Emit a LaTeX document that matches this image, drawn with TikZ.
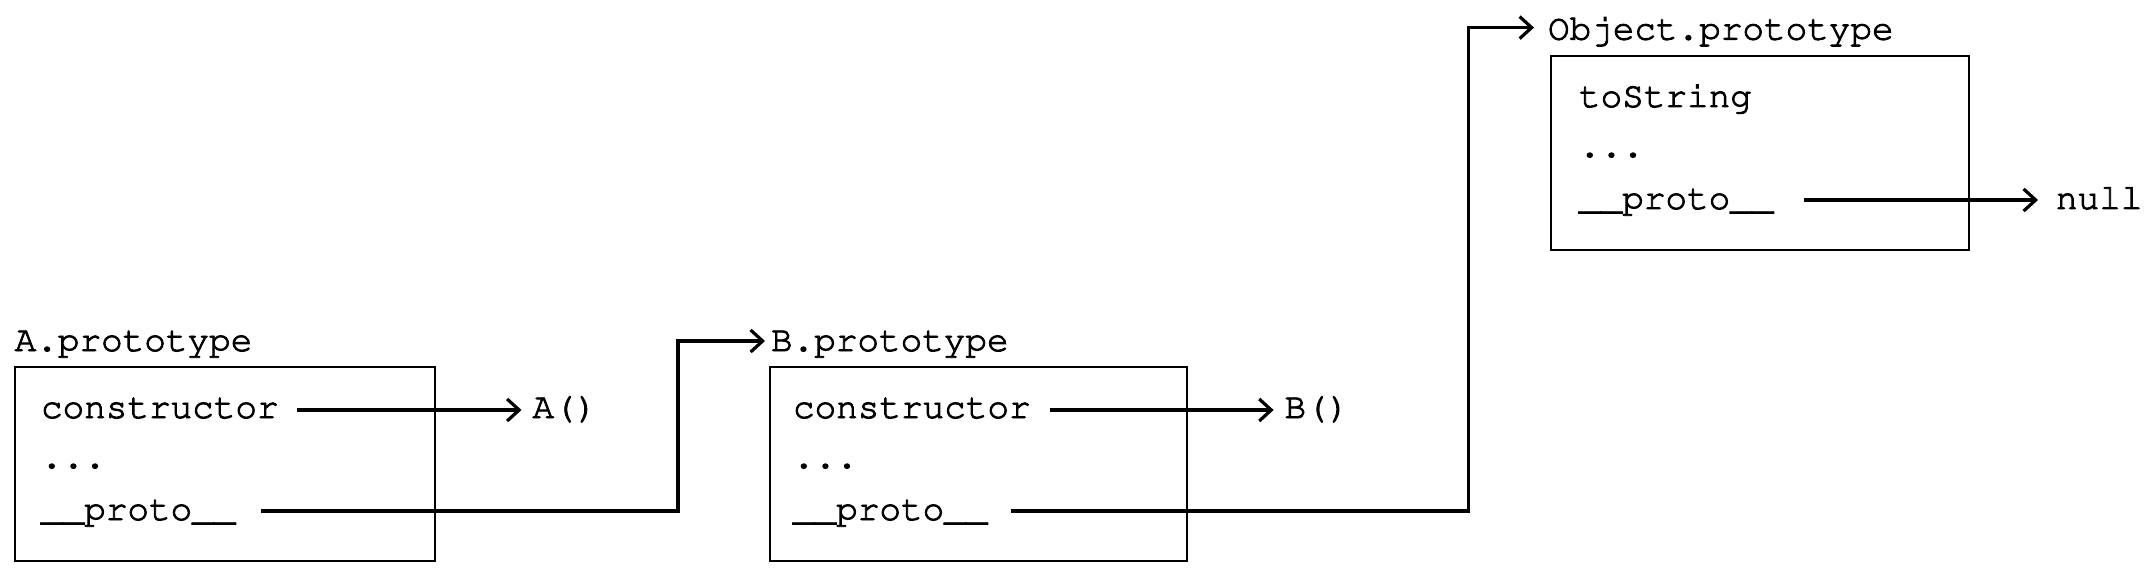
\documentclass[tikz,border=0pt]{standalone}
\usepackage[T1]{fontenc}
\usepackage{courier}
\usetikzlibrary{arrows.meta}
\newcommand\heavytext[1]{\special{pdf:literal direct 2 Tr 0.45 w}#1\special{pdf:literal direct 0 Tr}}
\begin{document}
\begin{tikzpicture}[x=0.5pt,y=-0.5pt,
  txt/.style={anchor=base west,inner sep=0pt,outer sep=0pt,font=\ttfamily\fontsize{18}{20}\selectfont},
  objbox/.style={draw,line width=1pt,anchor=north west,minimum height=96.8pt,inner sep=0pt},
  conn/.style={line width=1.6pt,-{Straight Barb[length=6pt,width=11pt]}},
  link/.style={line width=1.6pt}]
\useasboundingbox (0,0) rectangle (2152,572);
% boxes
\node[objbox,minimum width=210pt] (boxA) at (13.7,366.4) {};
\node[objbox,minimum width=208.6pt] (boxB) at (768.5,366.4) {};
\node[objbox,minimum width=209.2pt] (boxO) at (1549.5,55) {};
% titles
\node[txt] (tA) at (14.7,351) {\heavytext{A.prototype}};
\node[txt] (tB) at (771,351) {\heavytext{B.prototype}};
\node[txt] (tO) at (1548,39.6) {\heavytext{Object.prototype}};
% A contents
\node[txt] (Actor) at (41,418) {\heavytext{constructor}};
\node[txt] (Adots) at (41,468) {\heavytext{...}};
\node[txt] (Aproto) at (41,520) {\heavytext{\_\_proto\_\_}};
\node[txt] (Afn) at (532.5,418) {\heavytext{A()}};
% B contents
\node[txt] (Bctor) at (793,418) {\heavytext{constructor}};
\node[txt] (Bdots) at (793,468) {\heavytext{...}};
\node[txt] (Bproto) at (793,520) {\heavytext{\_\_proto\_\_}};
\node[txt] (Bfn) at (1284.6,418) {\heavytext{B()}};
% Object contents
\node[txt] (Otos) at (1579,107) {\heavytext{toString}};
\node[txt] (Odots) at (1579,157) {\heavytext{...}};
\node[txt] (Oproto) at (1579,209) {\heavytext{\_\_proto\_\_}};
\node[txt] (null) at (2056,209) {\heavytext{null}};
% connectors
\draw[conn] ([shift={(18,-8)}]Actor.base east) -- ([shift={(-11,-8)}]Afn.base west);
\draw[conn] ([shift={(19,-8)}]Bctor.base east) -- ([shift={(-11,-8)}]Bfn.base west);
\draw[conn] ([shift={(31,-9)}]Oproto.base east) -- ([shift={(-18,-9)}]null.base west);
\coordinate (cA) at (678,511);
\coordinate (cB) at (1468.5,511);
\draw[conn] ([shift={(26,-9)}]Aproto.base east) -- (cA) |- ([shift={(-6,-10)}]tB.base west);
\draw[conn] ([shift={(24,-9)}]Bproto.base east) -- (cB) |- ([shift={(-14,-12)}]tO.base west);
\end{tikzpicture}
\end{document}
